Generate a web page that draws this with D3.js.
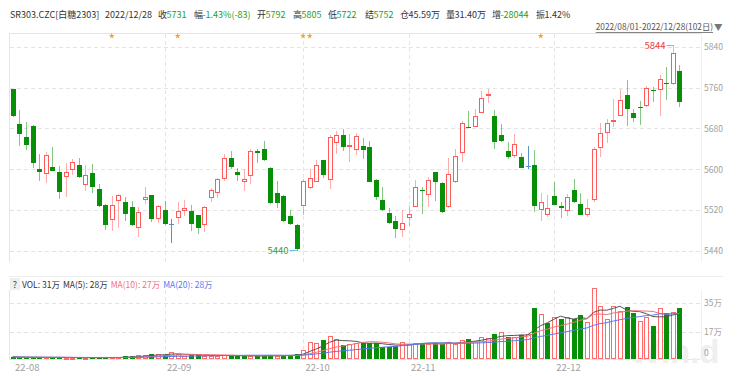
<!DOCTYPE html>
<html>
<head>
<meta charset="utf-8">
<script src="https://cdn.jsdelivr.net/npm/d3@7"></script>
<style>
  body { margin: 0; background: #fff; }
  svg { display: block; font-family: "Noto Sans CJK SC", "Noto Sans", sans-serif; }
</style>
</head>
<body>
<svg></svg>
<script>
// SR303 daily candles, 2022/08/01 - 2022/12/28 (102 trading days)
let open  = [5757,5689,5663,5685,5600,5590,5604,5594,5584,5598, 5609,5569,5593,5562,5531,5501,5537,5535,5527,5485,
             5540,5549,5503,5520,5493,5505,5518,5519,5510,5491, 5544,5553,5581,5622,5594,5575,5586,5635,5640,5603,
             5554,5548,5509,5490,5529,5563,5576,5618,5579,5651, 5668,5645,5637,5646,5643,5579,5540,5515,5499,5481,
             5505,5527,5560,5549,5594,5574,5527,5575,5631,5682, 5683,5711,5746,5704,5668,5635,5626,5625,5607,5609,
             5521,5511,5548,5528,5519,5560,5532,5511,5539,5641, 5671,5693,5705,5745,5710,5722,5723,5756,5755,5769,
             5766,5792];
let high  = [5758,5717,5693,5686,5630,5633,5643,5607,5612,5620, 5622,5608,5611,5572,5533,5547,5551,5545,5538,5527,
             5566,5550,5530,5537,5503,5536,5539,5530,5511,5529, 5563,5582,5630,5636,5602,5600,5640,5640,5655,5604,
             5577,5549,5520,5493,5581,5600,5618,5619,5668,5674, 5678,5670,5671,5661,5655,5580,5566,5525,5509,5520,
             5529,5579,5565,5585,5595,5575,5622,5640,5695,5714, 5719,5753,5757,5716,5689,5654,5670,5631,5646,5637,
             5553,5549,5576,5535,5552,5581,5554,5541,5644,5690, 5698,5737,5757,5775,5719,5734,5763,5762,5784,5800,
             5844,5805];
let low   = [5702,5646,5638,5602,5578,5573,5596,5542,5546,5589, 5582,5558,5553,5527,5482,5480,5485,5498,5489,5467,
             5533,5496,5494,5491,5456,5492,5508,5480,5473,5477, 5536,5543,5577,5600,5578,5557,5572,5612,5617,5533,
             5524,5496,5490,5440,5510,5561,5575,5582,5562,5630, 5636,5614,5627,5621,5575,5539,5519,5493,5466,5467,
             5488,5526,5512,5526,5537,5514,5525,5574,5615,5680, 5682,5710,5729,5640,5654,5620,5622,5602,5600,5516,
             5498,5507,5530,5505,5509,5534,5510,5506,5535,5624, 5652,5682,5704,5684,5692,5686,5722,5731,5705,5736,
             5765,5722];
let close = [5705,5670,5648,5613,5595,5627,5597,5555,5594,5614, 5584,5589,5566,5528,5490,5530,5550,5513,5490,5516,
             5546,5503,5528,5492,5493,5518,5524,5493,5486,5526, 5559,5581,5623,5604,5589,5581,5636,5631,5618,5534,
             5534,5498,5492,5443,5577,5583,5608,5589,5664,5668, 5644,5647,5665,5638,5576,5546,5520,5494,5484,5495,
             5512,5565,5558,5579,5575,5516,5591,5626,5691,5681, 5705,5739,5748,5653,5655,5625,5649,5603,5607,5529,
             5536,5524,5531,5524,5545,5536,5511,5524,5640,5672, 5691,5697,5736,5719,5700,5721,5760,5755,5776,5767,
             5827,5731];
// volume, in 万 lots
let volume = [1.4,1.0,1.0,1.0,1.0,1.0,1.0,1.0,0.8,0.8, 0.8,0.8,0.8,0.8,1.0,1.0,1.0,1.6,1.6,2.3,
              2.3,3.1,2.9,2.7,4.1,3.1,2.1,2.3,2.3,2.1, 2.1,2.1,2.3,1.9,1.9,1.9,2.1,1.9,1.9,2.5,
              1.9,2.3,2.5,2.9,5.4,10.3,10.1,11.8,14.3,12.2, 8.7,9.5,10.1,10.1,10.1,9.7,7.4,7.7,8.3,10.3,
              9.5,10.1,10.1,9.5,10.1,9.5,10.3,9.5,11.8,12.2, 11.4,13.4,13.2,15.5,16.6,13.9,13.9,14.7,15.3,31.7,
              27.9,22.6,25.9,24.8,25.9,24.8,27.3,22.8,43.9,32.9, 24.6,32.7,29.6,32.3,28.6,23.8,26.3,20.5,31.7,28.6,
              29.2,31.4];

let monthTicks = [0, 23, 44, 60, 82];
let monthLabels = ['22-08', '22-09', '22-10', '22-11', '22-12'];
let priceTicks = [5440, 5520, 5600, 5680, 5760, 5840];
let volTicks = [0, 17, 35];
let starDays = [15, 25, 44, 45, 80];

let headLabels = ['', '', '收', '幅', '开', '高', '低', '结', '仓', '量', '增', '振'];
let headValues = ['SR303.CZC[白糖2303]', '2022/12/28', '5731', '-1.43%(-83)', '5792', '5805', '5722', '5752',
                  '45.59万', '31.40万', '-28044', '1.42%'];
let rangeText = '2022/08/01-2022/12/28(102日)';
let volLegend = ['VOL: 31万', 'MA(5): 28万', 'MA(10): 27万', 'MA(20): 28万'];
let maPeriods = [5, 10, 20];

const W = 747, H = 376;
const left = 10, right = 700;
const upColor = '#ff5a5a', downColor = '#078f07', flatColor = '#5b8fc9';
const gridColor = '#e4e4e4';
const maColors = ['#555', '#f2707a', '#5a78f0'];
const fs = 9;
// where each header item starts, as laid out in the terminal
const headX = [10, 105, 158, 194, 257, 293, 328, 365, 400, 446, 492, 536];

let svg = d3.select('svg').attr('width', W).attr('height', H);

let x = d3.scaleLinear().domain([0, close.length - 1]).range([12.7, 679.3]);
let y = d3.scaleLinear().domain([5440, 5840]).range([251, 46.7]);
let yv = d3.scaleLinear().domain([0, 35]).range([359, 302.6]);

// ---- header
let head = svg.append('g').style('font-size', fs + 'px');
headLabels.forEach((lab, i) => {
    let hx = headX[i];
    if (lab) {
        head.append('text').attr('x', hx).attr('y', 18).attr('fill', '#333').text(lab);
        hx += 8.5;
    }
    let green = [2, 3, 4, 5, 6, 7, 10].indexOf(i) > -1;
    head.append('text').attr('x', hx).attr('y', 18)
        .attr('fill', green ? '#23a023' : '#333').text(headValues[i]);
});

let rt = svg.append('text').attr('x', 713).attr('y', 30).attr('text-anchor', 'end')
    .attr('fill', '#555').style('font-size', '8.3px').text(rangeText);
let rw = rt.node().getComputedTextLength();
svg.append('line').attr('x1', 713 - rw).attr('x2', 713).attr('y1', 32.5).attr('y2', 32.5)
    .attr('stroke', '#666').attr('stroke-width', 0.8);
svg.append('text').attr('x', 714).attr('y', 30).attr('fill', '#777')
    .style('font-size', '8.5px').text('▼');

// ---- frames and grids
let grid = svg.append('g').attr('fill', 'none');
grid.append('line').attr('x1', left - 1).attr('x2', right + 2).attr('y1', 33.5).attr('y2', 33.5).attr('stroke', gridColor);
grid.append('line').attr('x1', left - 1).attr('x2', 723).attr('y1', 276.5).attr('y2', 276.5).attr('stroke', '#eee');
grid.append('line').attr('x1', 9.5).attr('x2', 9.5).attr('y1', 33).attr('y2', 262).attr('stroke', gridColor);
grid.append('line').attr('x1', 9.5).attr('x2', 9.5).attr('y1', 290).attr('y2', 360).attr('stroke', gridColor);
grid.append('line').attr('x1', 701.5).attr('x2', 701.5).attr('y1', 33).attr('y2', 262).attr('stroke', '#f0f0f0');
grid.append('line').attr('x1', 701.5).attr('x2', 701.5).attr('y1', 290).attr('y2', 360).attr('stroke', '#f0f0f0');

grid.selectAll('.pg').data(priceTicks).enter().append('line')
    .attr('x1', left).attr('x2', right)
    .attr('y1', d => Math.round(y(d)) + 0.5).attr('y2', d => Math.round(y(d)) + 0.5)
    .attr('stroke', gridColor).attr('stroke-dasharray', '4,3');
grid.selectAll('.vg').data(volTicks).enter().append('line')
    .attr('x1', left).attr('x2', right)
    .attr('y1', d => Math.round(yv(d)) + 0.5).attr('y2', d => Math.round(yv(d)) + 0.5)
    .attr('stroke', gridColor).attr('stroke-dasharray', d => d === 0 ? null : '4,3');
monthTicks.slice(1).forEach(i => {
    let gx = Math.round(x(i)) + 0.5;
    grid.append('line').attr('x1', gx).attr('x2', gx).attr('y1', 34).attr('y2', 262)
        .attr('stroke', gridColor).attr('stroke-dasharray', '4,3');
    grid.append('line').attr('x1', gx).attr('x2', gx).attr('y1', 290).attr('y2', 359)
        .attr('stroke', gridColor).attr('stroke-dasharray', '4,3');
});

// ---- watermark
svg.append('text').attr('x', 630).attr('y', 363).attr('fill', '#efefef')
    .style('font-size', '33px').style('font-weight', 'bold')
    .style('font-family', '"Liberation Sans", sans-serif').text('Win.d');

// ---- axes
let priceAxis = svg.append('g').attr('transform', 'translate(704,0)')
    .call(d3.axisRight(y).tickValues(priceTicks).tickSize(0).tickPadding(0).tickFormat(d3.format('d')));
let volAxis = svg.append('g').attr('transform', 'translate(704,0)')
    .call(d3.axisRight(yv).tickValues(volTicks).tickSize(0).tickPadding(0)
        .tickFormat(d => d === 0 ? '0' : d + '万'));
volAxis.selectAll('.tick').filter(d => d === 0).select('text').attr('dy', '-0.4em');
let timeAxis = svg.append('g').attr('transform', 'translate(0,360)')
    .call(d3.axisBottom(x).tickValues(monthTicks).tickSize(0).tickPadding(4)
        .tickFormat((d, i) => monthLabels[i]));
timeAxis.selectAll('text').attr('text-anchor', 'start').attr('dx', '0.2em');
[priceAxis, volAxis, timeAxis].forEach(a => {
    a.select('.domain').remove();
    a.selectAll('text').attr('fill', '#a0a0a0').style('font-size', a === timeAxis ? '9.5px' : '8.5px')
        .style('font-family', '"Noto Sans CJK SC", "Noto Sans", sans-serif');
});

// ---- event stars
svg.append('g').selectAll('path').data(starDays).enter().append('path')
    .attr('d', d3.symbol(d3.symbolStar, 11))
    .attr('transform', d => `translate(${x(d)},36)`)
    .attr('fill', '#f7a12a');

// ---- candles
let candles = svg.append('g');
close.forEach((c, i) => {
    let o = open[i];
    let px = Math.round(x(i));
    let col = c > o ? upColor : c < o ? downColor : flatColor;
    candles.append('line')
        .attr('x1', px + 0.5).attr('x2', px + 0.5)
        .attr('y1', Math.round(y(high[i]))).attr('y2', Math.round(y(low[i])))
        .attr('stroke', col).attr('stroke-opacity', c === o ? 1 : 0.5);
    let top = Math.round(y(Math.max(o, c))), bot = Math.round(y(Math.min(o, c)));
    if (c > o) {
        candles.append('rect').attr('x', px - 1.5).attr('width', 4)
            .attr('y', top + 0.5).attr('height', Math.max(1, bot - top - 1))
            .attr('fill', '#fff').attr('stroke', col);
    } else if (c < o) {
        candles.append('rect').attr('x', px - 2).attr('width', 5)
            .attr('y', top).attr('height', Math.max(1, bot - top))
            .attr('fill', col);
    } else {
        candles.append('line').attr('x1', px - 2).attr('x2', px + 3)
            .attr('y1', top + 0.5).attr('y2', top + 0.5).attr('stroke', col);
    }
});

// high / low marks
let hi = d3.maxIndex(high), lo = d3.minIndex(low);
let hiX = Math.round(x(hi)) + 0.5, loX = Math.round(x(lo)) + 0.5;
let hy = Math.round(y(high[hi])) + 0.5, ly = Math.round(y(low[lo])) - 0.5;
svg.append('line').attr('x1', hiX - 7).attr('x2', hiX).attr('y1', hy).attr('y2', hy).attr('stroke', '#6cc3e6');
svg.append('text').attr('x', hiX - 8).attr('y', hy).attr('dy', '0.35em').attr('text-anchor', 'end')
    .attr('fill', '#e84040').style('font-size', '9.5px').text(high[hi]);
svg.append('line').attr('x1', loX - 8).attr('x2', loX).attr('y1', ly).attr('y2', ly).attr('stroke', '#6cc3e6');
svg.append('text').attr('x', loX - 9).attr('y', ly).attr('dy', '0.35em').attr('text-anchor', 'end')
    .attr('fill', '#3a9a3a').style('font-size', '9.5px').text(low[lo]);

// ---- volume legend
svg.append('rect').attr('x', 10).attr('y', 278).attr('width', 10).attr('height', 12).attr('fill', '#eee');
svg.append('text').attr('x', 15).attr('y', 287.5).attr('text-anchor', 'middle')
    .attr('fill', '#444').style('font-size', fs + 'px').text('?');
let lx = 22;
volLegend.forEach((t, i) => {
    let el = svg.append('text').attr('x', lx).attr('y', 287.5)
        .attr('fill', i < 2 ? '#333' : maColors[i - 1]).style('font-size', '8.5px').text(t);
    lx += el.node().getComputedTextLength() + 3;
});

// ---- volume bars
let vbars = svg.append('g');
volume.forEach((v, i) => {
    let px = Math.round(x(i));
    let up = i > 0 && close[i] >= close[i - 1];
    let top = Math.round(yv(v)), base = Math.round(yv(0));
    if (up) {
        vbars.append('rect').attr('x', px - 1.5).attr('width', 4)
            .attr('y', top + 0.5).attr('height', Math.max(1, base - top - 1))
            .attr('fill', '#fff').attr('stroke', '#ff6a6a');
    } else {
        vbars.append('rect').attr('x', px - 2).attr('width', 5)
            .attr('y', top).attr('height', Math.max(1, base - top))
            .attr('fill', downColor);
    }
});

// moving averages of volume
maPeriods.forEach((n, k) => {
    let ma = volume.map((v, i) => d3.mean(volume.slice(Math.max(0, i - n + 1), i + 1)));
    svg.append('path').datum(ma)
        .attr('d', d3.line().x((d, i) => x(i)).y(d => yv(d)))
        .attr('fill', 'none').attr('stroke', maColors[k]).attr('stroke-width', 1);
});
</script>
</body>
</html>
